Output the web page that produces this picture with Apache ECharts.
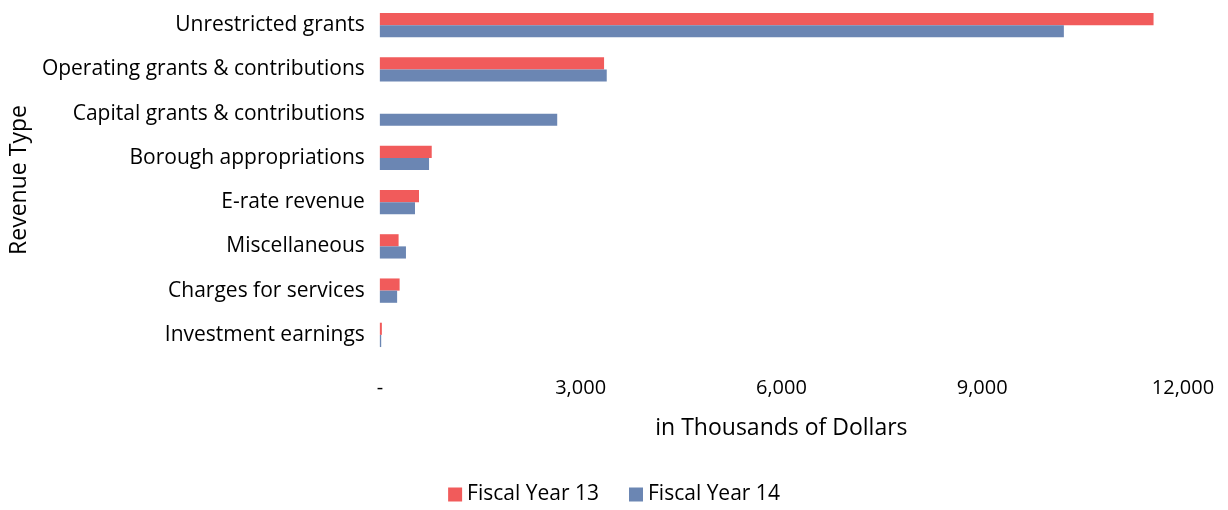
<!DOCTYPE html>
<html>
<head>
<meta charset="utf-8">
<script src="https://cdn.jsdelivr.net/npm/echarts@6/dist/echarts.min.js"></script>
<style>html,body{margin:0;padding:0;background:#fff}#c{width:1228px;height:510px}</style>
</head>
<body>
<div id="c"></div>
<script>
const categories = ["Unrestricted grants","Operating grants & contributions","Capital grants & contributions","Borough appropriations","E-rate revenue","Miscellaneous","Charges for services","Investment earnings"];
const fy13 = [11560, 3350, 0, 775, 585, 280, 295, 30];
const fy14 = [10220, 3390, 2650, 735, 525, 390, 258, 20];
const xTicks = [0, 3000, 6000, 9000, 12000];
const seriesNames = ["Fiscal Year 13", "Fiscal Year 14"];

const FONT = "Open Sans";
const chart = echarts.init(document.getElementById('c'), null, {renderer:'canvas'});
chart.setOption({
  animation:false,
  textStyle:{fontFamily:FONT},
  grid:{left:377, right:45, top:3, bottom:153, containLabel:false},
  legend:{
    data:seriesNames, bottom:0, left:'center', itemWidth:14, itemHeight:14, itemGap:30,
    icon:'rect', textStyle:{fontSize:21, color:'#000', fontFamily:FONT}
  },
  xAxis:{
    type:'value', min:xTicks[0], max:xTicks[xTicks.length-1], interval:3000,
    name:'in Thousands of Dollars', nameLocation:'middle', nameGap:60,
    nameTextStyle:{fontSize:23, color:'#000', fontFamily:FONT},
    axisLine:{show:false}, axisTick:{show:false}, splitLine:{show:false},
    axisLabel:{fontSize:20, color:'#000', margin:21,
      formatter:v => v===0 ? '-' : v.toLocaleString('en-US')}
  },
  yAxis:{
    type:'category', data:categories, inverse:true,
    name:'Revenue Type', nameLocation:'middle', nameGap:346, nameRotate:90,
    nameTextStyle:{fontSize:23, color:'#000', fontFamily:FONT},
    axisLine:{show:false}, axisTick:{show:false},
    axisLabel:{fontSize:21, color:'#000', margin:15}
  },
  series:[
    {name:seriesNames[0], type:'bar', data:fy13, barGap:'0%', barCategoryGap:'45%', itemStyle:{color:'#f15b5b'}},
    {name:seriesNames[1], type:'bar', data:fy14, barGap:'0%', barCategoryGap:'45%', itemStyle:{color:'#6b86b3'}}
  ]
});
</script>
</body>
</html>
